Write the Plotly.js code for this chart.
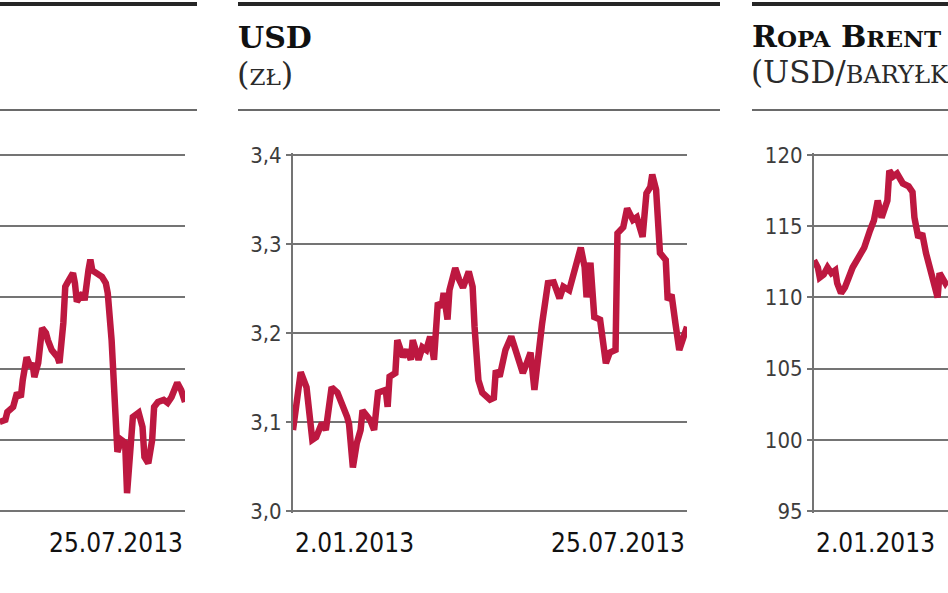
<!DOCTYPE html>
<html><head><meta charset="utf-8">
<script src="https://cdn.plot.ly/plotly-3.0.1.min.js"></script>
<style>html,body{margin:0;padding:0;background:#fff}#chart{width:948px;height:593px}</style>
</head><body><div id="chart"></div>
<script>
// ---- data ----
const leftDates = ['2013-04-20','2013-04-23','2013-04-24','2013-04-27','2013-04-29','2013-05-01','2013-05-02','2013-05-04','2013-05-06','2013-05-07','2013-05-08','2013-05-10','2013-05-12','2013-05-14','2013-05-15','2013-05-17','2013-05-20','2013-05-21','2013-05-23','2013-05-24','2013-05-25','2013-05-28','2013-05-29','2013-05-30','2013-06-02','2013-06-03','2013-06-05','2013-06-06','2013-06-07','2013-06-09','2013-06-12','2013-06-14','2013-06-15','2013-06-17','2013-06-18','2013-06-19','2013-06-20','2013-06-22','2013-06-24','2013-06-25','2013-06-27','2013-06-28','2013-07-01','2013-07-03','2013-07-04','2013-07-06','2013-07-08','2013-07-09','2013-07-11','2013-07-14','2013-07-16','2013-07-18','2013-07-21','2013-07-23','2013-07-25'];
const leftValues = [2275,2278,2289,2296,2316,2310,2334,2366,2352,2358,2338,2358,2407,2400,2390,2376,2366,2358,2414,2465,2470,2484,2470,2444,2456,2446,2488,2503,2488,2484,2479,2470,2456,2390,2320,2250,2233,2250,2246,2175,2240,2282,2288,2268,2226,2217,2250,2296,2303,2306,2302,2310,2330,2320,2303];

const usdDates = ['2013-01-02','2013-01-06','2013-01-09','2013-01-12','2013-01-14','2013-01-17','2013-01-19','2013-01-22','2013-01-25','2013-01-28','2013-01-30','2013-01-31','2013-02-02','2013-02-04','2013-02-06','2013-02-07','2013-02-11','2013-02-13','2013-02-15','2013-02-19','2013-02-20','2013-02-21','2013-02-24','2013-02-25','2013-02-28','2013-03-02','2013-03-04','2013-03-05','2013-03-08','2013-03-10','2013-03-12','2013-03-14','2013-03-16','2013-03-18','2013-03-20','2013-03-21','2013-03-23','2013-03-24','2013-03-27','2013-03-29','2013-03-31','2013-04-03','2013-04-05','2013-04-06','2013-04-08','2013-04-10','2013-04-14','2013-04-16','2013-04-17','2013-04-19','2013-04-22','2013-04-25','2013-04-28','2013-05-01','2013-05-03','2013-05-05','2013-05-07','2013-05-09','2013-05-11','2013-05-14','2013-05-17','2013-05-20','2013-05-22','2013-05-25','2013-05-28','2013-05-31','2013-06-02','2013-06-03','2013-06-05','2013-06-06','2013-06-07','2013-06-10','2013-06-13','2013-06-15','2013-06-18','2013-06-19','2013-06-22','2013-06-24','2013-06-27','2013-06-29','2013-07-02','2013-07-04','2013-07-06','2013-07-07','2013-07-09','2013-07-11','2013-07-14','2013-07-15','2013-07-17','2013-07-19','2013-07-21','2013-07-25'];
const usdValues = [3.091,3.156,3.139,3.080,3.083,3.099,3.091,3.139,3.133,3.119,3.106,3.098,3.049,3.076,3.091,3.113,3.102,3.091,3.133,3.136,3.117,3.151,3.155,3.192,3.173,3.181,3.170,3.192,3.170,3.184,3.181,3.196,3.170,3.234,3.229,3.245,3.215,3.248,3.273,3.260,3.251,3.269,3.252,3.207,3.147,3.133,3.125,3.127,3.158,3.151,3.181,3.196,3.173,3.155,3.166,3.178,3.136,3.181,3.211,3.256,3.257,3.239,3.252,3.248,3.271,3.296,3.274,3.240,3.279,3.237,3.218,3.215,3.166,3.178,3.181,3.312,3.319,3.340,3.327,3.330,3.308,3.357,3.364,3.378,3.361,3.290,3.282,3.237,3.243,3.211,3.181,3.207];

const brentDates = ['2013-01-02','2013-01-04','2013-01-05','2013-01-07','2013-01-09','2013-01-11','2013-01-13','2013-01-14','2013-01-16','2013-01-18','2013-01-20','2013-01-22','2013-01-25','2013-01-27','2013-01-28','2013-01-31','2013-02-02','2013-02-04','2013-02-06','2013-02-09','2013-02-10','2013-02-12','2013-02-14','2013-02-17','2013-02-20','2013-02-22','2013-02-23','2013-02-25','2013-02-27','2013-03-01','2013-03-04','2013-03-07','2013-03-08','2013-03-11','2013-03-12'];
const brentValues = [112.6,112.1,111.4,111.6,112.1,111.7,111.9,111.0,110.3,110.7,111.4,112.1,112.8,113.3,113.5,114.7,115.4,116.8,115.6,116.8,118.9,118.5,118.7,118.0,117.8,117.4,115.6,114.2,114.5,113.1,111.4,110.0,111.7,111.0,111.2];

const usdTicks = [3.0, 3.1, 3.2, 3.3, 3.4];
const usdTickLabels = ['3,0', '3,1', '3,2', '3,3', '3,4'];
const brentTicks = [95, 100, 105, 110, 115, 120];
const brentTickLabels = ['95', '100', '105', '110', '115', '120'];
const leftTicks = [2150, 2250, 2350, 2450, 2550, 2650];
const firstDate = '2013-01-02', lastDate = '2013-07-25';
const firstLabel = '2.01.2013', lastLabel = '25.07.2013';

// ---- layout helpers (pixel -> paper) ----
const W = 948, H = 593;
const px = p => p / W;
const py = p => 1 - p / H;
const PAD = 0.006;
const yTopPx = 155, yBotPx = 511, spanPx = yBotPx - yTopPx;
const yDom = [py(yBotPx + spanPx * PAD), py(yTopPx - spanPx * PAD)];
function padRange(a, b) { const d = (b - a) * PAD; return [a - d, b + d]; }

const RED = '#bd1840';
const GRID = '#747474';
const tickFont = {family: 'DejaVu Sans Condensed, Liberation Sans Narrow, Roboto, sans-serif', size: 22, color: '#3c3c3c'};
const dateFont = {family: 'DejaVu Sans Condensed, Liberation Sans Narrow, Roboto, sans-serif', size: 26, color: '#111'};

function yAxis(ticks, labels, range, showLine, anchor) {
  return {
    domain: yDom, range: padRange(range[0], range[1]), anchor: anchor,
    tickmode: 'array', tickvals: ticks, ticktext: labels || ticks.map(String),
    showticklabels: !!labels, tickfont: tickFont,
    ticks: showLine ? 'outside' : '', ticklen: 5, tickwidth: 2, tickcolor: GRID,
    showgrid: true, gridcolor: GRID, gridwidth: 2,
    showline: showLine, linecolor: GRID, linewidth: 2,
    zeroline: false, fixedrange: true
  };
}
function xAxis(domain, range, anchor) {
  return {domain: domain, range: range, type: 'date', anchor: anchor,
    showgrid: false, showline: false, showticklabels: false, ticks: '', zeroline: false, fixedrange: true};
}

const lineStyle = {color: RED, width: 6.5, shape: 'linear'};
const traces = [
  {x: leftDates, y: leftValues, xaxis: 'x', yaxis: 'y', type: 'scatter', mode: 'lines', line: lineStyle},
  {x: usdDates, y: usdValues, xaxis: 'x2', yaxis: 'y2', type: 'scatter', mode: 'lines', line: lineStyle},
  {x: brentDates, y: brentValues, xaxis: 'x3', yaxis: 'y3', type: 'scatter', mode: 'lines', line: lineStyle}
];

function hline(x0, x1, y, color, width) {
  return {type: 'line', xref: 'paper', yref: 'paper', x0: px(x0), x1: px(x1), y0: py(y), y1: py(y), line: {color: color, width: width}};
}

const serif = 'DejaVu Serif, Liberation Serif, serif';
const annotations = [
  // date labels
  {xref: 'x', yref: 'paper', x: lastDate, y: py(543), text: lastLabel, xanchor: 'right', yanchor: 'middle', showarrow: false, font: dateFont},
  {xref: 'x2', yref: 'paper', x: firstDate, y: py(543), text: firstLabel, xanchor: 'left', yanchor: 'middle', showarrow: false, font: dateFont},
  {xref: 'x2', yref: 'paper', x: lastDate, y: py(543), text: lastLabel, xanchor: 'right', yanchor: 'middle', showarrow: false, font: dateFont},
  {xref: 'x3', yref: 'paper', x: firstDate, y: py(543), text: firstLabel, xanchor: 'left', yanchor: 'middle', showarrow: false, font: dateFont},
  // titles
  {xref: 'paper', yref: 'paper', x: px(236), y: py(37), text: '<b>USD</b>', xanchor: 'left', yanchor: 'middle', showarrow: false,
   font: {family: serif, size: 30, color: '#111'}},
  {xref: 'paper', yref: 'paper', x: px(235), y: py(74), text: '(<span style="font-size:23px">ZŁ</span>)', xanchor: 'left', yanchor: 'middle', showarrow: false,
   font: {family: serif, size: 32, color: '#2a2a2a'}},
  {xref: 'paper', yref: 'paper', x: px(750), y: py(36), text: '<b>R<span style="font-size:23px">OPA</span> B<span style="font-size:23px">RENT</span></b>', xanchor: 'left', yanchor: 'middle', showarrow: false,
   font: {family: serif, size: 30, color: '#111'}},
  {xref: 'paper', yref: 'paper', x: px(749), y: py(72), text: '(USD/<span style="font-size:24px">BARYŁKA</span>)', xanchor: 'left', yanchor: 'middle', showarrow: false,
   font: {family: serif, size: 31, color: '#2a2a2a'}}
];

const layout = {
  width: W, height: H, margin: {l: 0, r: 0, t: 0, b: 0, pad: 0},
  paper_bgcolor: '#fff', plot_bgcolor: 'rgba(0,0,0,0)', showlegend: false,
  xaxis: xAxis([0, px(185)], ['2013-04-20 05:00', lastDate], 'y'),
  yaxis: yAxis(leftTicks, null, [2150, 2650], false, 'x'),
  xaxis2: xAxis([px(293), px(687)], [firstDate, lastDate], 'y2'),
  yaxis2: yAxis(usdTicks, usdTickLabels, [3.0, 3.4], true, 'x2'),
  xaxis3: xAxis([px(814), 1], [firstDate, '2013-03-12 09:00'], 'y3'),
  yaxis3: yAxis(brentTicks, brentTickLabels, [95, 120], true, 'x3'),
  shapes: [
    hline(0, 197, 4, '#262626', 4), hline(238, 720, 4, '#262626', 4), hline(752, 948, 4, '#262626', 4),
    hline(0, 197, 110, '#6a6a6a', 2), hline(238, 720, 110, '#6a6a6a', 2), hline(752, 948, 110, '#6a6a6a', 2)
  ],
  annotations: annotations
};

Plotly.newPlot('chart', traces, layout, {staticPlot: true, displayModeBar: false});
</script></body></html>
